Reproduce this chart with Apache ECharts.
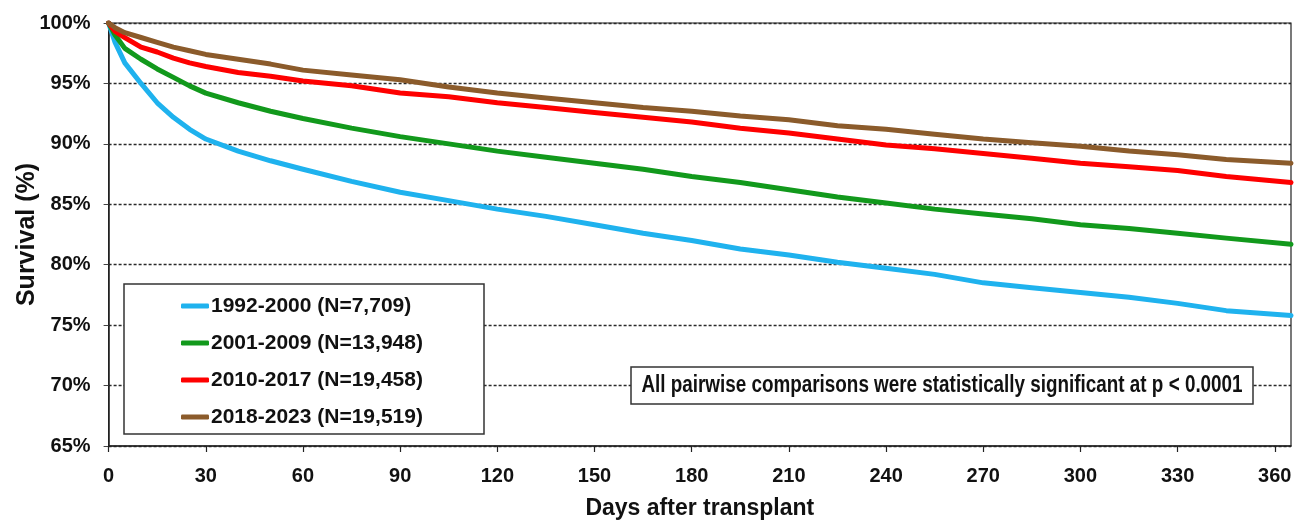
<!DOCTYPE html>
<html>
<head>
<meta charset="utf-8">
<title>Survival by era</title>
<script src="https://cdn.jsdelivr.net/npm/echarts@6/dist/echarts.min.js"></script>
<style>
  html, body { margin: 0; padding: 0; background: #fff; }
  #chart { width: 1294px; height: 520px; }
</style>
</head>
<body>
<div id="chart"></div>
<script>
// Days after transplant at which survival is sampled
const days = [0, 2, 5, 10, 15, 20, 25, 30, 40, 50, 60, 75, 90, 105, 120, 135, 150, 165,
              180, 195, 210, 225, 240, 255, 270, 285, 300, 315, 330, 345, 365];

// Survival (%) per transplant era
const era1992 = [100, 98.4, 96.7, 95.0, 93.4, 92.2, 91.2, 90.4, 89.4, 88.6, 87.9, 86.9, 86.0, 85.3, 84.6, 84.0, 83.3, 82.6,
                 82.0, 81.3, 80.8, 80.2, 79.7, 79.2, 78.5, 78.1, 77.7, 77.3, 76.8, 76.2, 75.8];
const era2001 = [100, 99.0, 97.9, 97.0, 96.2, 95.5, 94.8, 94.2, 93.4, 92.7, 92.1, 91.3, 90.6, 90.0, 89.4, 88.9, 88.4, 87.9,
                 87.3, 86.8, 86.2, 85.6, 85.1, 84.6, 84.2, 83.8, 83.3, 83.0, 82.6, 82.2, 81.7];
const era2010 = [100, 99.3, 98.8, 98.0, 97.6, 97.1, 96.7, 96.4, 95.9, 95.6, 95.2, 94.8, 94.2, 93.9, 93.4, 93.0, 92.6, 92.2,
                 91.8, 91.3, 90.9, 90.4, 89.9, 89.6, 89.2, 88.8, 88.4, 88.1, 87.8, 87.3, 86.8];
const era2018 = [100, 99.6, 99.2, 98.8, 98.4, 98.0, 97.7, 97.4, 97.0, 96.6, 96.1, 95.7, 95.3, 94.7, 94.2, 93.8, 93.4, 93.0,
                 92.7, 92.3, 92.0, 91.5, 91.2, 90.8, 90.4, 90.1, 89.8, 89.4, 89.1, 88.7, 88.4];

const seriesNames = ['1992-2000 (N=7,709)', '2001-2009 (N=13,948)', '2010-2017 (N=19,458)', '2018-2023 (N=19,519)'];
const seriesValues = [era1992, era2001, era2010, era2018];
const seriesColors = ['#1fb2ee', '#12991c', '#fe0000', '#8b5b2b'];

const noteText = 'All pairwise comparisons were statistically significant at p < 0.0001';
const xAxisTitle = 'Days after transplant';
const yAxisTitle = 'Survival (%)';

const sans = '"Liberation Sans", Arial, sans-serif';

const chart = echarts.init(document.getElementById('chart'), null, { renderer: 'canvas' });

const series = seriesNames.map((name, i) => ({
  name: name,
  type: 'line',
  data: days.map((d, j) => [d, seriesValues[i][j]]),
  showSymbol: false,
  symbol: 'none',
  lineStyle: { width: 5, color: seriesColors[i], cap: 'round', join: 'round' },
  itemStyle: { color: seriesColors[i] },
  z: 3 + i,
  animation: false
}));

chart.setOption({
  animation: false,
  backgroundColor: '#ffffff',
  grid: {
    left: 108.6, right: 3, top: 23, bottom: 74,
    outerBoundsMode: 'none',
    containLabel: false,
    show: true, borderColor: '#222', borderWidth: 1.2, backgroundColor: 'transparent'
  },
  xAxis: {
    type: 'value', min: 0, max: 365, interval: 30,
    name: xAxisTitle, nameLocation: 'middle', nameGap: 51,
    nameMoveOverlap: false,
    nameTextStyle: { fontFamily: sans, fontWeight: 'bold', fontSize: 23, color: '#111' },
    axisLine: { show: true, onZero: false, lineStyle: { color: '#222', width: 1.5 } },
    axisTick: { show: true, length: 6, lineStyle: { color: '#222', width: 1.2 } },
    axisLabel: { margin: 20, fontFamily: sans, fontWeight: 'bold', fontSize: 20, color: '#111' },
    splitLine: { show: false }
  },
  yAxis: {
    type: 'value', min: 65, max: 100, interval: 5,
    name: yAxisTitle, nameLocation: 'middle', nameGap: 69, nameRotate: 90,
    nameMoveOverlap: false,
    nameTextStyle: { fontFamily: sans, fontWeight: 'bold', fontSize: 25, color: '#111' },
    axisLine: { show: true, lineStyle: { color: '#222', width: 1.5 } },
    axisTick: { show: true, length: 5, lineStyle: { color: '#444', width: 1 } },
    axisLabel: { margin: 18, formatter: '{value}%', fontFamily: sans, fontWeight: 'bold', fontSize: 20, color: '#111' },
    splitLine: { show: true, lineStyle: { color: '#2a2a2a', width: 1.3, type: [3, 2] } }
  },
  legend: {
    show: true,
    orient: 'vertical',
    left: 181, top: 292,
    padding: 0,
    itemGap: 9,
    itemWidth: 28, itemHeight: 5,
    icon: 'roundRect',
    textStyle: { fontFamily: sans, fontWeight: 'bold', fontSize: 21, lineHeight: 28, color: '#111', padding: [0, 0, 0, -3] },
    data: seriesNames,
    selectedMode: false
  },
  graphic: [
    {
      type: 'rect', z: 1,
      shape: { x: 124, y: 284, width: 360, height: 150 },
      style: { fill: '#fff', stroke: '#333', lineWidth: 1.5 }
    },
    {
      type: 'rect', z: 10,
      shape: { x: 631, y: 367, width: 622, height: 37 },
      style: { fill: '#fff', stroke: '#333', lineWidth: 1.5 }
    },
    {
      type: 'text', z: 11,
      x: 942, y: 385.5, scaleX: 0.82,
      style: { text: noteText, fill: '#111', font: 'bold 23px ' + sans, align: 'center', verticalAlign: 'middle' }
    }
  ],
  series: series
});
</script>
</body>
</html>
